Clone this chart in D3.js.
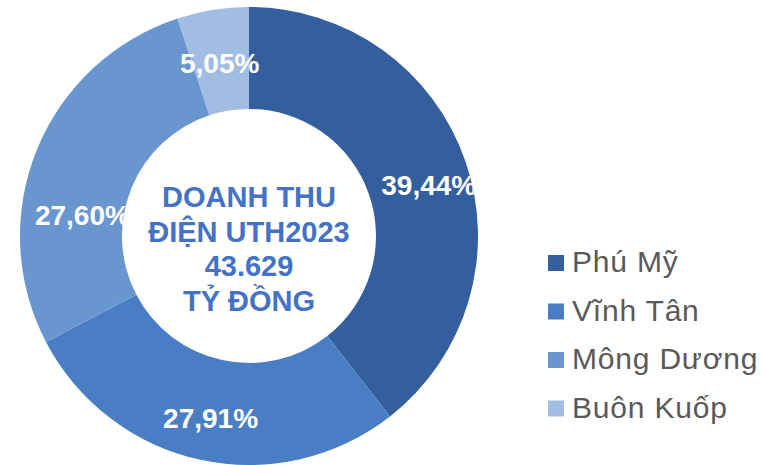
<!DOCTYPE html>
<html><head><meta charset="utf-8">
<script src="https://cdn.jsdelivr.net/npm/d3@7"></script>
<style>body{margin:0;background:#fff}svg{display:block}</style>
</head><body>
<svg id="c" width="763" height="465"></svg>
<script>
const categories = ["Phú Mỹ", "Vĩnh Tân", "Mông Dương", "Buôn Kuốp"];
const shares = [39.44, 27.91, 27.60, 5.05];
const labels = ["39,44%", "27,91%", "27,60%", "5,05%"];
const colors = ["#335F9E", "#4A7EC4", "#6A96CF", "#A2BDE2"];
const centerLines = ["DOANH THU", "ĐIỆN UTH2023", "43.629", "TỶ ĐỒNG"];
// label placement nudges (degrees off slice mid-angle, radius)
const labelAngleShift = [3.0, -0.3, -14.8, -0.5];
const labelRadius = [187, 186, 168, 176];

const svg = d3.select("#c");
const cx = 249, cy = 236, R = 229, r0 = 127;
const g = svg.append("g").attr("transform", `translate(${cx},${cy})`);
const pie = d3.pie().sort(null).value(d => d.v);
const data = pie(categories.map((c, i) => ({c, v: shares[i], l: labels[i], col: colors[i], i})));
const arc = d3.arc().innerRadius(r0).outerRadius(R);
g.selectAll("path.s").data(data).join("path").attr("class", "s")
  .attr("d", arc).attr("fill", d => d.data.col);

svg.append("defs").append("clipPath").attr("id", "ring")
  .append("path").attr("d", d3.arc().innerRadius(r0).outerRadius(R)({startAngle: 0, endAngle: 2 * Math.PI}))
  .attr("transform", `translate(${cx},${cy})`);
const lg = svg.append("g").attr("clip-path", "url(#ring)");
lg.selectAll("text").data(data).join("text")
  .attr("transform", d => {
    const a = (d.startAngle + d.endAngle) / 2 + labelAngleShift[d.data.i] * Math.PI / 180;
    const rr = labelRadius[d.data.i];
    return `translate(${cx + rr * Math.sin(a)},${cy - rr * Math.cos(a)})`;
  })
  .attr("text-anchor", "middle").attr("dy", "0.36em")
  .attr("font-family", "Liberation Sans, Arial, sans-serif").attr("font-weight", "bold")
  .attr("font-size", 28).attr("fill", "#fff").text(d => d.data.l);

svg.append("g").selectAll("text").data(centerLines).join("text")
  .attr("x", cx).attr("y", (d, i) => 207 + i * 34.5)
  .attr("text-anchor", "middle")
  .attr("font-family", "Liberation Sans, Arial, sans-serif").attr("font-weight", "bold")
  .attr("font-size", 29).attr("fill", "#4472C4").text(d => d);

const leg = svg.append("g").selectAll("g").data(data).join("g")
  .attr("transform", (d, i) => `translate(548,${272 + i * 48.5})`);
leg.append("rect").attr("x", 0).attr("y", -17).attr("width", 16).attr("height", 16).attr("fill", d => d.data.col);
leg.append("text").attr("x", 24).attr("y", 0)
  .attr("font-family", "Liberation Sans, Arial, sans-serif").attr("font-size", 30)
  .attr("letter-spacing", 0.8)
  .attr("fill", "#595959").text(d => d.data.c);
</script>
</body></html>
